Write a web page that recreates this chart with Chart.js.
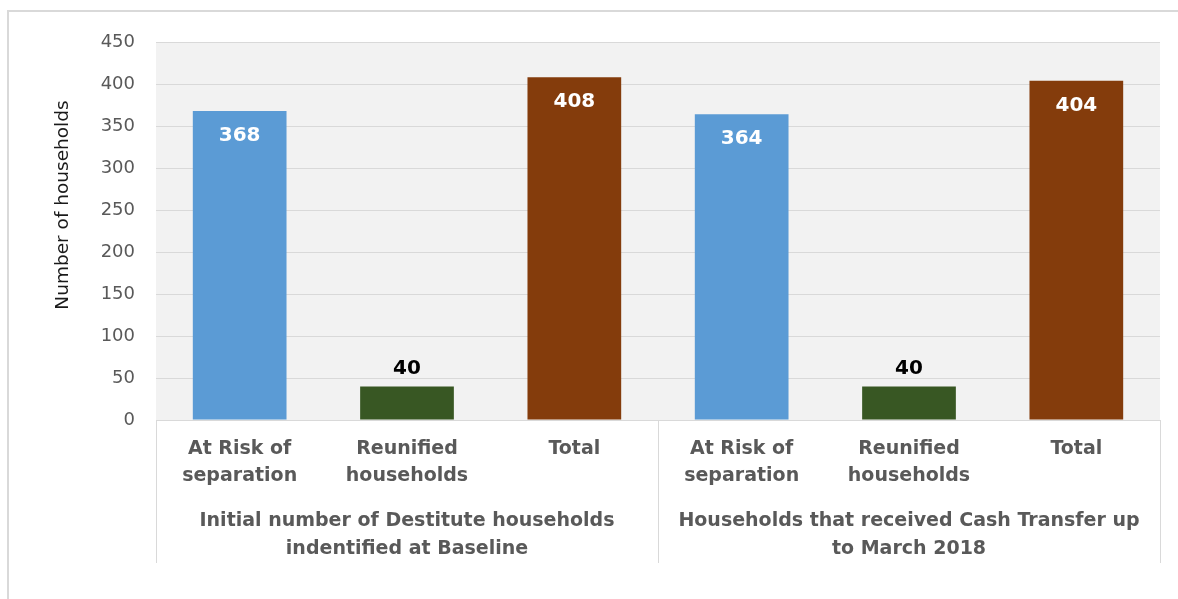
<!DOCTYPE html>
<html>
<head>
<meta charset="utf-8">
<script src="https://cdn.jsdelivr.net/npm/chart.js@4.4.1/dist/chart.umd.min.js"></script>
<style>
  html, body { margin: 0; padding: 0; background: #ffffff; overflow: hidden; }
  #wrap { width: 1178px; height: 599px; position: relative; }
  canvas { display: block; }
</style>
</head>
<body>
<div id="wrap"><canvas id="chart" width="1178" height="599"></canvas></div>
<script>
// Household counts, two groups of three bars
const categoryLabels = [
  ['At Risk of', 'separation'],
  ['Reunified', 'households'],
  ['Total'],
  ['At Risk of', 'separation'],
  ['Reunified', 'households'],
  ['Total']
];
const groupLabels = [
  ['Initial number of Destitute households', 'indentified at Baseline'],
  ['Households that received Cash Transfer up', 'to March 2018']
];
const groupSize = 3;
const householdCounts = [368, 40, 408, 364, 40, 404];
const yTicks = [0, 50, 100, 150, 200, 250, 300, 350, 400, 450];
const yAxisTitle = 'Number of households';

const barColors = ['#5b9bd5', '#385723', '#843c0c', '#5b9bd5', '#385723', '#843c0c'];
const FONT = "'DejaVu Sans', 'Open Sans', sans-serif";
const GRID = '#d9d9d9';
const LABEL_GREY = '#595959';

// Outer frame (top and left edges) and plot background
const backdrop = {
  id: 'backdrop',
  beforeDraw(chart) {
    const { ctx, chartArea: a } = chart;
    ctx.save();
    ctx.fillStyle = '#ffffff';
    ctx.fillRect(0, 0, chart.width, chart.height);
    ctx.fillStyle = '#d9d9d9';
    ctx.fillRect(7, 10, chart.width - 7, 2);
    ctx.fillRect(7, 10, 2, chart.height - 10);
    ctx.fillStyle = '#f2f2f2';
    ctx.fillRect(a.left, a.top, a.right - a.left, a.bottom - a.top);
    ctx.restore();
  }
};

// Value labels: inside the top of tall bars, above short ones
const valueLabels = {
  id: 'valueLabels',
  afterDatasetsDraw(chart) {
    const { ctx } = chart;
    const meta = chart.getDatasetMeta(0);
    const ds = chart.data.datasets[0];
    ctx.save();
    ctx.font = 'bold 20px ' + FONT;
    ctx.textAlign = 'center';
    ctx.textBaseline = 'middle';
    meta.data.forEach((bar, i) => {
      const v = ds.data[i];
      if (v > 100) {
        ctx.fillStyle = '#ffffff';
        ctx.fillText(String(v), bar.x, bar.y + 25);
      } else {
        ctx.fillStyle = '#000000';
        ctx.fillText(String(v), bar.x, bar.y - 18);
      }
    });
    ctx.restore();
  }
};

// Group separators, group captions and the vertical axis title
const groupAxis = {
  id: 'groupAxis',
  afterDraw(chart) {
    const { ctx, chartArea: a } = chart;
    const x = chart.scales.x;
    const n = chart.data.labels.length;
    const step = (x.getPixelForValue(1) - x.getPixelForValue(0));
    const edge = i => x.getPixelForValue(i) - step / 2;
    ctx.save();
    ctx.strokeStyle = GRID;
    ctx.lineWidth = 1;
    const bottom = 563;
    for (let g = 0; g <= n / groupSize; g++) {
      const px = Math.round(edge(g * groupSize)) + 0.5;
      ctx.beginPath();
      ctx.moveTo(px, a.bottom);
      ctx.lineTo(px, bottom);
      ctx.stroke();
    }
    ctx.fillStyle = LABEL_GREY;
    ctx.font = 'bold 19px ' + FONT;
    ctx.textAlign = 'center';
    ctx.textBaseline = 'middle';
    groupLabels.forEach((lines, g) => {
      const cx = (edge(g * groupSize) + edge((g + 1) * groupSize)) / 2;
      lines.forEach((t, k) => ctx.fillText(t, cx, 521 + k * 28));
    });
    ctx.translate(63, 205);
    ctx.rotate(-Math.PI / 2);
    ctx.fillStyle = '#1a1a1a';
    ctx.font = '18.5px ' + FONT;
    ctx.fillText(yAxisTitle, 0, 0);
    ctx.restore();
  }
};

new Chart(document.getElementById('chart'), {
  type: 'bar',
  data: {
    labels: categoryLabels,
    datasets: [{
      data: householdCounts,
      backgroundColor: barColors,
      borderWidth: 0,
      barPercentage: 0.56,
      categoryPercentage: 1.0
    }]
  },
  options: {
    responsive: false,
    devicePixelRatio: 1,
    animation: false,
    layout: { padding: { top: 42, right: 18, bottom: 0, left: 0 } },
    plugins: { legend: { display: false }, tooltip: { enabled: false } },
    scales: {
      x: {
        grid: { display: false, drawTicks: false },
        border: { display: true, color: GRID, width: 1 },
        ticks: {
          color: LABEL_GREY,
          font: { family: FONT, size: 19, weight: 'bold', lineHeight: 1.42 },
          padding: 16,
          maxRotation: 0,
          autoSkip: false
        },
        afterFit(scale) { scale.height = 179; }
      },
      y: {
        min: 0,
        max: 450,
        afterBuildTicks(scale) { scale.ticks = yTicks.map(v => ({ value: v })); },
        grid: { color: GRID, drawTicks: false, lineWidth: 1 },
        border: { display: false },
        ticks: {
          color: LABEL_GREY,
          font: { family: FONT, size: 18 },
          padding: 21
        },
        afterFit(scale) { scale.width = 156; }
      }
    }
  },
  plugins: [backdrop, valueLabels, groupAxis]
});
</script>
</body>
</html>
